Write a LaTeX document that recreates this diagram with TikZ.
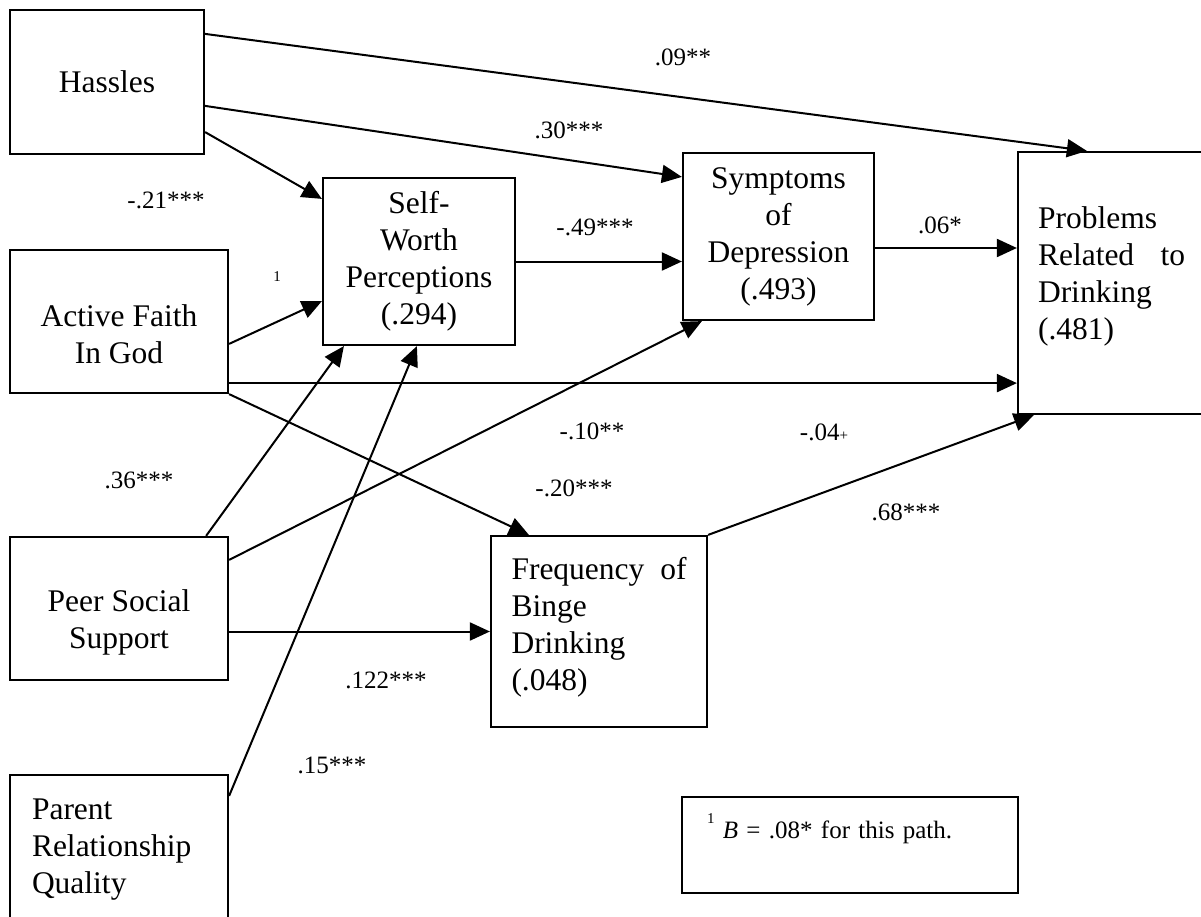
\documentclass[tikz,border=0pt]{standalone}
\usepackage{fontspec}
\setmainfont{Liberation Serif}
\usepackage{tikz}
\usetikzlibrary{arrows.meta}
\newcommand{\boxfont}{\fontsize{31.5}{37}\selectfont}
\newcommand{\valfont}{\fontsize{25}{30}\selectfont}
\newcommand{\notefont}{\fontsize{15}{15}\selectfont}
\tikzstyle{every node}+=[inner sep=0pt]
\tikzstyle{block} = [rectangle, draw, line width=2.2pt, font=\boxfont, align=center]
\tikzstyle{lblock} = [block, align=left]
\tikzstyle{line} = [draw, line width=2pt, -{Triangle[length=20pt, width=18pt]}]
\tikzstyle{value} = [font=\valfont]

\begin{document}
\begin{tikzpicture}[x=1pt, y=-1pt]
            \useasboundingbox (0,0) rectangle (1201,917);
            \clip (0,0) rectangle (1201,917);
            % Place nodes
            \node [block, minimum width=194pt, minimum height=144pt] (hassles) at (107,82) {Hassles};
            \node [block, minimum width=218pt, minimum height=143pt] (faith) at (119,321.5) {\rule{0pt}{48pt}Active Faith\\In God};
            \node [block, minimum width=218pt, minimum height=143pt] (peer) at (119,608.5) {\rule{0pt}{50pt}Peer Social\\Support};
            \node [lblock, text width=174pt, minimum width=218pt, minimum height=150pt] (parent) at (119,850) {Parent\\Relationship\\Quality};
            \node [block, minimum width=192pt, minimum height=167pt] (self) at (419,261.5) {Self-\\Worth\\Perceptions\\(.294)};
            \node [block, minimum width=191pt, minimum height=167pt] (symp) at (778.5,236.5) {Symptoms\\of\\Depression\\(.493)};
            \node [lblock, text width=147pt, minimum width=187pt, minimum height=262pt] (prob) at (1111.5,283) {\rule{0pt}{8pt}Problems\\Related\hfill to\\Drinking\\(.481)\rule[-20pt]{0pt}{20pt}};
            \node [lblock, text width=175pt, minimum width=216pt, minimum height=191pt] (binge) at (599,631.5) {Frequency\hfill of\\Binge\\Drinking\\(.048)\rule[-16pt]{0pt}{16pt}};
            \node [lblock, font=\valfont, text width=286pt, minimum width=336pt, minimum height=96pt] (note) at (850,845) {{\notefont\raisebox{15pt}{1}}\ \textit{B} = .08* for this path.\rule[-37pt]{0pt}{37pt}};
            % Path values
            \node [value] (v1) at (683,57) {.09**};
            \node [value] (v2) at (569,130) {.30***};
            \node [value] (v3) at (166,200) {-.21***};
            \node [value, font=\notefont] (v4) at (277,277) {1};
            \node [value] (v5) at (595,227) {-.49***};
            \node [value] (v6) at (940,225) {.06*};
            \node [value] (v7) at (592,431) {-.10**};
            \node [value] (v8) at (824,432) {-.04{\notefont+}};
            \node [value] (v9) at (574,488) {-.20***};
            \node [value] (v10) at (139,480) {.36***};
            \node [value] (v11) at (906,512) {.68***};
            \node [value] (v12) at (386,680) {.122***};
            \node [value] (v13) at (332,765) {.15***};
            % Draw edges
            \path [line] ([yshift=-25pt]hassles.north east) -- ([xshift=70pt]prob.north west);
            \path [line] ([yshift=-97pt]hassles.north east) -- ([yshift=-25pt]symp.north west);
            \path [line] ([yshift=23pt]hassles.south east) -- ([yshift=-22pt]self.north west);
            \path [line] ([yshift=-95pt]faith.north east) -- ([yshift=45pt]self.south west);
            \path [line] ([yshift=11pt]faith.south east) -- ([yshift=32pt]prob.south west);
            \path [line] (faith.south east) -- ([xshift=39pt]binge.north west);
            \path [line] ([xshift=-23pt]peer.north east) -- ([xshift=22pt]self.south west);
            \path [line] ([yshift=-24pt]peer.north east) -- ([xshift=20pt]symp.south west);
            \path [line] (peer.east |- binge.west) -- (binge.west);
            \path [line] ([yshift=-22pt]parent.north east) -- ([xshift=95pt]self.south west);
            \path [line] (self.east) -- (self.east -| symp.west);
            \path [line] ([yshift=-11.5pt]symp.east) -- ([yshift=-11.5pt]symp.east -| prob.west);
            \path [line] (binge.north east) -- ([xshift=17pt]prob.south west);
\end{tikzpicture}
\end{document}
